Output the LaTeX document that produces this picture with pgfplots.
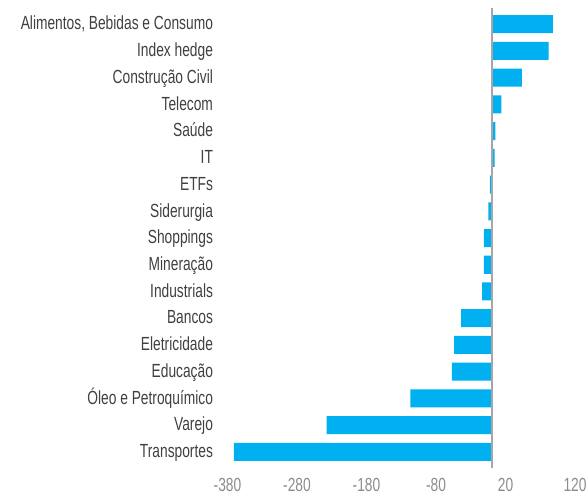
\documentclass[border=0pt]{standalone}
\usepackage{fontspec}
\setmainfont{Liberation Sans}[FakeStretch=0.725]
\usepackage{pgfplots}
\pgfplotsset{compat=1.18}
\definecolor{barblue}{HTML}{00B0F0}
\definecolor{txt}{HTML}{404040}
\definecolor{zline}{HTML}{A6A6A6}
\begin{document}
\begin{tikzpicture}
\begin{axis}[
  name=ax,
  scale only axis,
  width=347.5pt, height=460pt,
  xbar, bar width=18pt,
  xmin=-380, xmax=120,
  ymin=-0.6, ymax=16.6,
  y dir=reverse,
  axis line style={draw=none},
  xtick={-380,-280,-180,-80,20,120},
  ytick={0,...,16},
  yticklabels={{Alimentos, Bebidas e Consumo},Index hedge,Construção Civil,Telecom,Saúde,IT,ETFs,Siderurgia,Shoppings,Mineração,Industrials,Bancos,Eletricidade,Educação,Óleo e Petroquímico,Varejo,Transportes},
  major tick length=0pt,
  tick label style={font=\fontsize{19}{21}\selectfont, text=txt},
  xticklabel style={text=gray!90, yshift=-6.5pt},
  /pgf/number format/assume math mode=true,
  yticklabel style={xshift=-11pt, text height=13.5pt, text depth=0pt, yshift=1pt},
]
\addplot[fill=barblue, draw=none] coordinates {
(88,0) (82,1) (43.5,2) (14,3) (5.6,4) (4.2,5) (-2.5,6) (-4.5,7) (-11,8) (-11,9) (-13.6,10) (-44,11) (-54,12) (-57,13) (-117,14) (-237.5,15) (-371,16)
};
\draw[zline, line width=2pt] (axis cs:0,-0.6) -- (axis cs:0,16.6);
\end{axis}
\path (ax.south west) ++(-227.5pt,-27pt) coordinate (bl);
\path (ax.north east) ++(12pt,8pt) coordinate (tr);
\pgfresetboundingbox
\path (bl) rectangle (tr);
\end{tikzpicture}
\end{document}
